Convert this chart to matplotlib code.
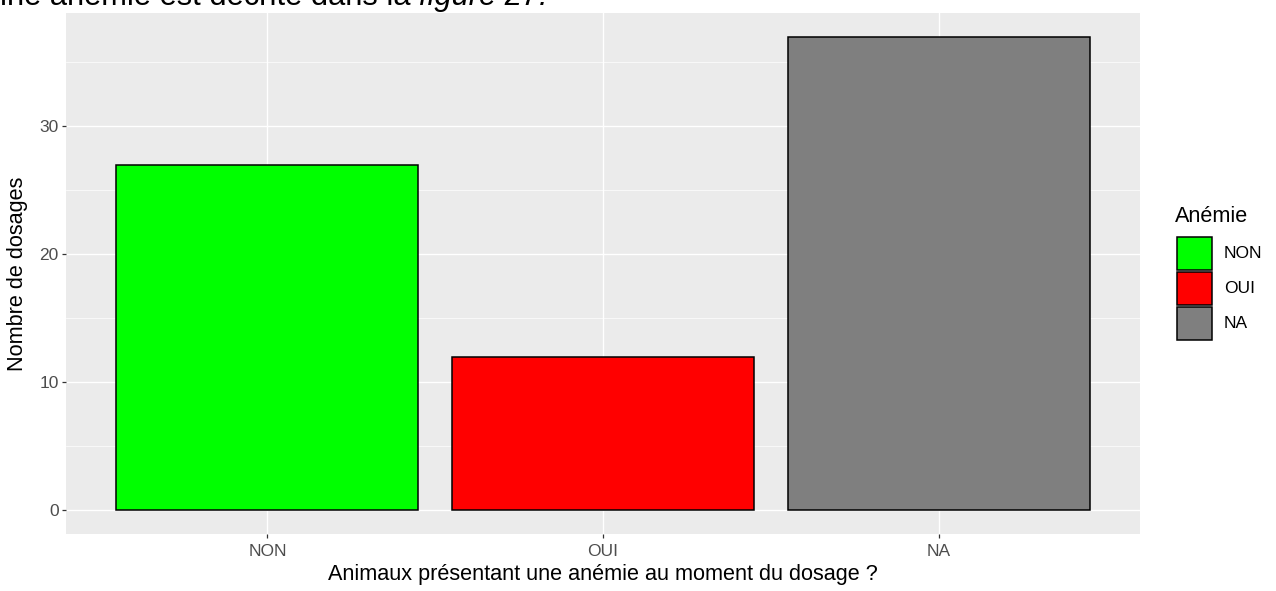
import matplotlib.pyplot as plt
from matplotlib.patches import Rectangle
from matplotlib.ticker import MultipleLocator

plt.rcParams['font.family'] = ['Liberation Sans', 'DejaVu Sans']

# data
categories = ["NON", "OUI", "NA"]
counts = [27, 12, 37]
colors = ["#00FF00", "#FF0000", "#7F7F7F"]
legend_title = "Anémie"

W, H = 1276, 591
fig = plt.figure(figsize=(W / 100, H / 100), dpi=100)
ax = fig.add_axes([66 / W, (H - 534) / H, (1140 - 66) / W, (534 - 13) / H])

ax.set_facecolor("#EBEBEB")
xpos = list(range(1, len(categories) + 1))
bars = ax.bar(xpos, counts, width=0.9, color=colors, edgecolor="black",
              linewidth=1.1, zorder=3)

ax.set_xlim(0.4, 3.6)
ax.set_ylim(-max(counts) * 0.05, max(counts) * 1.05)
ax.set_xticks(xpos)
ax.set_xticklabels(categories)
ax.yaxis.set_major_locator(MultipleLocator(10))
ax.yaxis.set_minor_locator(MultipleLocator(5))
ax.grid(which="major", color="white", linewidth=1.0, zorder=0)
ax.grid(which="minor", axis="y", color="white", linewidth=0.5, zorder=0)
ax.set_axisbelow(True)
for s in ax.spines.values():
    s.set_visible(False)
ax.tick_params(which="major", colors="#333333", length=3, width=0.9,
               labelsize=12.5, labelcolor="#4D4D4D")
ax.tick_params(axis="x", pad=4)
ax.tick_params(axis="y", pad=2.2)
ax.tick_params(which="minor", length=0)

ax.set_xlabel("Animaux présentant une anémie au moment du dosage ?",
              fontsize=15.6)
ax.xaxis.set_label_coords(0.5, -(564 - 534) / 521)
ax.set_ylabel("Nombre de dosages", fontsize=15.6)
ax.yaxis.label.set_verticalalignment("center")
ax.yaxis.set_label_coords((18 - 66) / 1074, 0.5)

# legend (ggplot style: square keys stacked tightly)
fig.text(1175 / W, 1 - 222 / H, legend_title, fontsize=15.6, va="baseline")
key_w, key_h, pitch = 35, 33, 35
for i, (lab, col) in enumerate(zip(categories, colors)):
    top = 237 + i * pitch
    fig.patches.append(Rectangle((1177 / W, 1 - (top + key_h) / H),
                                 key_w / W, key_h / H, facecolor=col,
                                 edgecolor="black", linewidth=1.1,
                                 transform=fig.transFigure, figure=fig))
    fig.text(1224 / W, 1 - (top + key_h / 2) / H, lab, fontsize=12.5,
             va="center", ha="left")

# cut-off caption from the page above the figure
base_y = 1 - 5 / H
fs = 19
for _ in range(3):
    for t in list(fig.texts):
        if getattr(t, "_caption", False):
            t.remove()
    t1 = fig.text(0.0, base_y, "ine anémie est décrite dans la ", fontsize=fs,
                  va="baseline", ha="left")
    t1._caption = True
    fig.canvas.draw()
    bb = t1.get_window_extent()
    t2 = fig.text(bb.x1 / W, base_y, "figure 27.", fontsize=fs,
                  style="italic", va="baseline", ha="left")
    t2._caption = True
    fig.canvas.draw()
    width = t2.get_window_extent().x1
    fs = fs * 550 / width

fig.savefig("out.png", dpi=100)
